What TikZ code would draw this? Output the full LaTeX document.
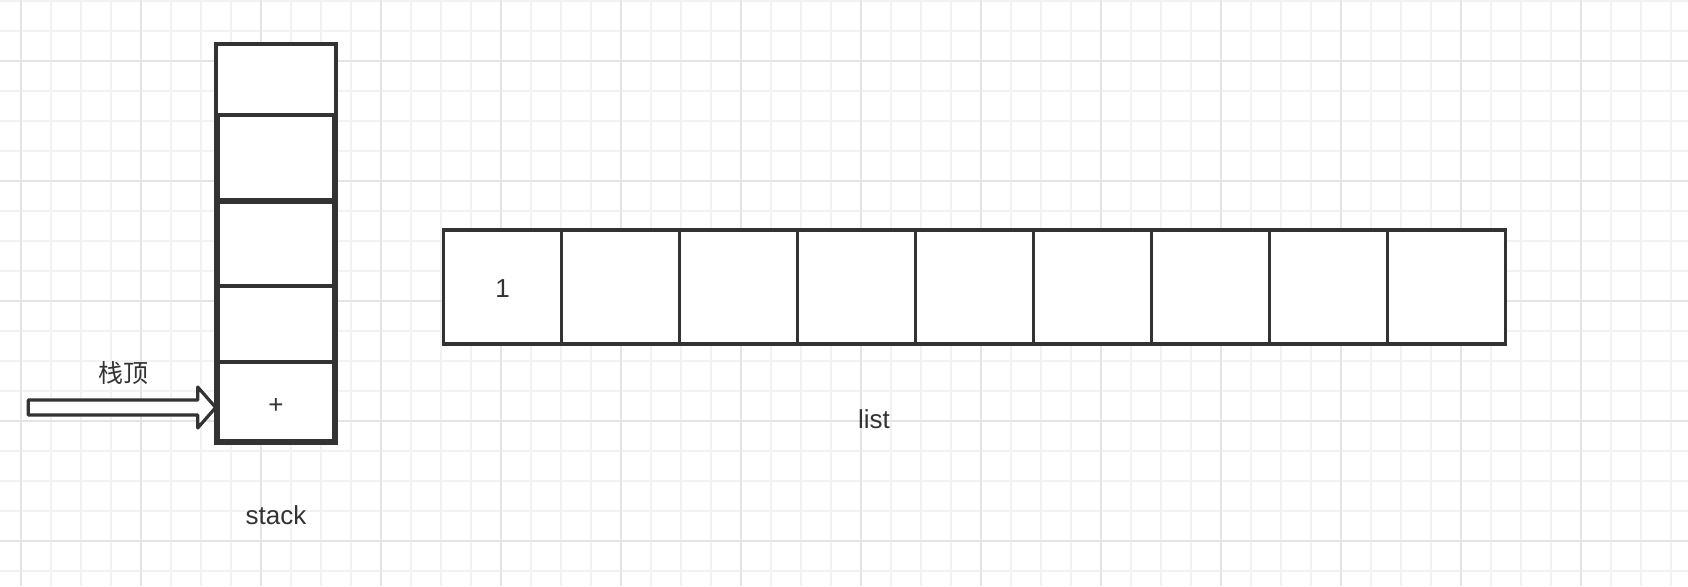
\documentclass[tikz,border=0pt]{standalone}
\usepackage{fontspec}
\setmainfont{Liberation Sans}
\newfontfamily\cjk{Noto Sans CJK SC}
\usetikzlibrary{calc}
\definecolor{ink}{HTML}{333333}
\definecolor{gridminor}{HTML}{F2F2F2}
\definecolor{gridmajor}{HTML}{E4E4E4}
\begin{document}
\begin{tikzpicture}[x=1pt,y=-1pt,
  minorline/.style={draw=gridminor, line width=2pt},
  majorline/.style={draw=gridmajor, line width=2pt},
  cellbox/.style={draw=ink, line width=3.6pt, fill=white, inner sep=0pt, outer sep=0pt},
  fatarrow/.style={draw=ink, line width=3.2pt, fill=white, line join=round},
  lbl/.style={text=ink, inner sep=0pt, font=\fontsize{26}{30}\selectfont}]
\fill[white] (0,0) rectangle (1688,586);
\useasboundingbox (0,0) rectangle (1688,586);
% grid
\foreach \x in {20.7,50.7,...,1688} \draw[minorline] (\x,0) -- (\x,586);
\foreach \y in {0.7,30.7,...,586} \draw[minorline] (0,\y) -- (1688,\y);
\foreach \x in {20.7,140.7,...,1688} \draw[majorline] (\x,0) -- (\x,586);
\foreach \y in {60.7,180.7,...,586} \draw[majorline] (0,\y) -- (1688,\y);
% stack
\node[cellbox, minimum width=120pt, minimum height=399pt] (stack) at (275.7,243.5) {};
\node[cellbox, minimum width=120pt, minimum height=71pt] (s1) at (275.7,79.5) {};
\node[cellbox, minimum width=116pt, minimum height=84.3pt] (s2) at (275.7,157.15) {};
\node[cellbox, minimum width=116pt, minimum height=84pt] (s3) at (275.7,244) {};
\node[cellbox, minimum width=116pt, minimum height=75.7pt] (s4) at (275.7,323.85) {};
\node[cellbox, minimum width=116pt, minimum height=79.3pt] (s5) at (275.7,401.35) {};
% list
\foreach \i in {1,...,9}
  \node[cellbox, minimum width=118pt, minimum height=114pt] (l\i) at ({502.3+118*(\i-1)},287) {};
% arrow
\coordinate (tail) at (28.3,407.5);
\coordinate (tip) at (stack.west |- tail);
\draw[fatarrow] ($(tail)+(0,-7.5)$) -- ($(tip)+(-18,-7.5)$) -- ($(tip)+(-18,-20.5)$)
  -- (tip) -- ($(tip)+(-18,20.5)$) -- ($(tip)+(-18,7.5)$) -- ($(tail)+(0,7.5)$) -- cycle;
% labels
\node[lbl, font=\cjk\fontsize{25}{30}\selectfont] (toplbl) at (123.3,373.3) {栈顶};
\node[lbl] (plus) at (276,406) {+};
\node[lbl] (stacklbl) at (276,515) {stack};
\node[lbl] (one) at (502.7,288.3) {1};
\node[lbl] (listlbl) at (874,419.3) {list};
\end{tikzpicture}
\end{document}
